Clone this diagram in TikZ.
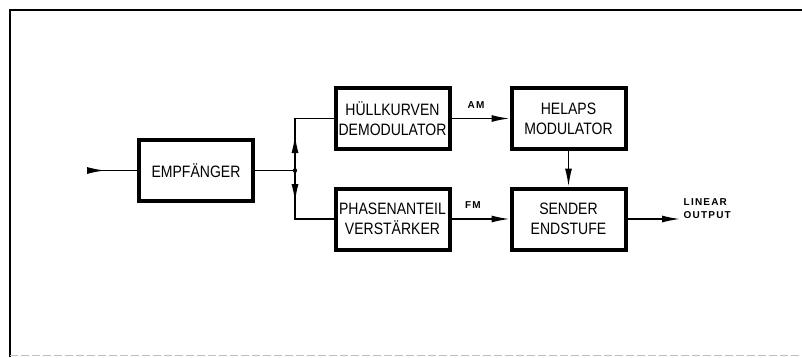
\documentclass[tikz,border=0pt]{standalone}
\usepackage{fontspec}
\setmainfont{Liberation Sans}[FakeStretch=0.85]
\newfontfamily\labelfont{Liberation Sans}[LetterSpace=12]
\usetikzlibrary{arrows.meta,decorations.markings}

\begin{document}
\begin{tikzpicture}[x=1pt, y=-1pt, >={Latex[length=18pt,width=7pt]}, line width=1.4pt,
    block/.style={draw, rectangle, line width=4pt, minimum width=114pt, minimum height=61pt, align=center, inner sep=1pt, font=\fontsize{16.5}{20}\selectfont},
    sig/.style={align=left, inner sep=0pt, font=\labelfont\bfseries\fontsize{10}{13}\selectfont},
    midarrow/.style={postaction={decorate}, decoration={markings, mark=at position #1 with {\arrow{Latex[length=18pt,width=7pt]}}}}]

    \useasboundingbox (0,0) rectangle (802,357);

    % frame
    \draw[line width=2.2pt] (10,357) -- (10,10) -- (802,10);
    \draw[gray!50, line width=1pt, dash pattern=on 8pt off 3pt] (10,355) -- (802,355);

    \node[block] (empf) at (196,170.5) {EMPFÄNGER};
    \node[block] (hull) at (392.5,118.5) {HÜLLKURVEN\\DEMODULATOR};
    \node[block] (helaps) at (568.5,118.5) {HELAPS\\MODULATOR};
    \node[block] (phase) at (392.5,219) {PHASENANTEIL\\VERSTÄRKER};
    \node[block] (sender) at (568.5,219) {SENDER\\ENDSTUFE};

    \coordinate (in) at (90,170.5);
    \coordinate (junc) at (295,170.5);
    \coordinate (out) at (680,219);

    \node[sig] (am) at (476,105) {AM};
    \node[sig] (fm) at (473,205) {FM};
    \node[sig, anchor=west] (lin) at (683,209) {LINEAR\\OUTPUT};

    \draw[midarrow=15pt] (in) -- (empf);
    \draw (empf) -- (junc);
    \draw[midarrow=35.5pt] (junc) |- (hull);
    \draw[midarrow=31.5pt] (junc) |- (phase);
    \fill (junc) circle (2.2pt);
    \draw[->] (hull) -- (helaps);
    \draw[->] (phase) -- (sender);
    \draw[->] (helaps) -- (sender);
    \draw[->] (sender) -- (out);
\end{tikzpicture}
\end{document}
